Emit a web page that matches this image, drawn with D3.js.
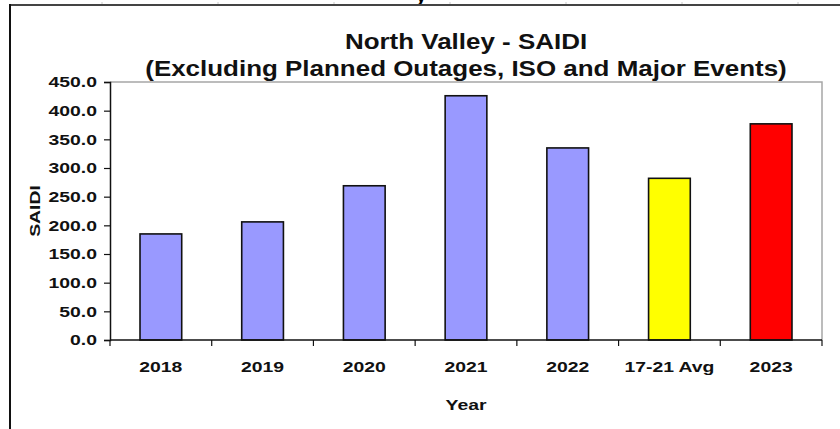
<!DOCTYPE html>
<html>
<head>
<meta charset="utf-8">
<script src="https://cdn.jsdelivr.net/npm/d3@7"></script>
<style>
  html, body { margin: 0; padding: 0; background: #fff; }
  svg { display: block; font-family: "Liberation Sans", Arial, sans-serif; }
</style>
</head>
<body>
<svg id="chart" width="840" height="429"></svg>
<script>
// North Valley SAIDI by year
const categories = ["2018", "2019", "2020", "2021", "2022", "17-21 Avg", "2023"];
const saidiValues = [185, 206, 269, 426, 335, 282, 377];
const barColors = ["#9999ff", "#9999ff", "#9999ff", "#9999ff", "#9999ff", "#ffff00", "#ff0000"];
const yTicks = [0, 50, 100, 150, 200, 250, 300, 350, 400, 450];
const titleLines = ["North Valley - SAIDI", "(Excluding Planned Outages, ISO and Major Events)"];

const svg = d3.select("#chart");
const W = 840, H = 429;
const plot = { left: 110, right: 822, top: 82, bottom: 340 };

// text is drawn slightly wide, like the exported chart's lettering
const TITLE_SX = 1.18, LABEL_SX = 1.25;
const titleSize = "22px", labelSize = "15.5px";

// chart area frame (cropped at right and bottom)
svg.append("defs").append("clipPath").attr("id", "topclip")
  .append("rect").attr("x", 0).attr("y", 0).attr("width", W).attr("height", 4);
svg.append("text").attr("x", 421).attr("y", 2).attr("text-anchor", "middle")
  .attr("clip-path", "url(#topclip)")
  .style("font-size", "20px").style("font-weight", "bold").text("y");
// faint sheet gridline stubs above the frame
[102, 218, 334, 450, 566, 682, 798].forEach(xp => {
  svg.append("line").attr("x1", xp).attr("x2", xp).attr("y1", 2).attr("y2", 5)
    .attr("stroke", "#c8c8c8").attr("stroke-width", 1);
});
svg.append("line").attr("x1", 9).attr("x2", W).attr("y1", 5).attr("y2", 5)
  .attr("stroke", "#444").attr("stroke-width", 2);
svg.append("line").attr("x1", 10).attr("x2", 10).attr("y1", 4).attr("y2", H)
  .attr("stroke", "#111").attr("stroke-width", 2);

const x = d3.scaleBand().domain(categories).range([plot.left, plot.right])
  .paddingInner(0.59).paddingOuter(0.295);
const y = d3.scaleLinear().domain([0, 450]).range([plot.bottom, plot.top]);

// plot area border (top and right)
svg.append("path")
  .attr("d", `M${plot.left},${plot.top}H${plot.right}V${plot.bottom}`)
  .attr("fill", "none").attr("stroke", "#a6a6a6").attr("stroke-width", 1.5);

// bars
svg.append("g").selectAll("rect").data(categories).join("rect")
  .attr("x", d => x(d))
  .attr("y", (d, i) => y(saidiValues[i]))
  .attr("width", x.bandwidth())
  .attr("height", (d, i) => y(0) - y(saidiValues[i]))
  .attr("fill", (d, i) => barColors[i])
  .attr("stroke", "#111").attr("stroke-width", 1.6);

// y axis
const yAxis = svg.append("g").attr("transform", `translate(${plot.left},0)`)
  .call(d3.axisLeft(y).tickValues(yTicks).tickFormat(d3.format(".1f")).tickSize(6).tickPadding(7));
yAxis.select(".domain").attr("stroke", "#111").attr("stroke-width", 1.5);
yAxis.selectAll(".tick line").attr("stroke", "#111").attr("stroke-width", 1.2);
yAxis.selectAll(".tick text")
  .attr("x", -13 / LABEL_SX)
  .attr("transform", `scale(${LABEL_SX},1)`)
  .style("font-size", labelSize).style("font-weight", "bold").attr("fill", "#111");

// x axis: ticks on category boundaries
const xAxisG = svg.append("g").attr("transform", `translate(0,${plot.bottom})`);
xAxisG.append("line").attr("x1", plot.left).attr("x2", plot.right)
  .attr("stroke", "#111").attr("stroke-width", 1.5);
const step = x.step();
const boundaries = d3.range(categories.length + 1).map(i => plot.left + i * step);
xAxisG.selectAll("line.bt").data(boundaries).join("line").attr("class", "bt")
  .attr("x1", d => d).attr("x2", d => d).attr("y1", 0).attr("y2", 6)
  .attr("stroke", "#111").attr("stroke-width", 1.2);
xAxisG.selectAll("text").data(categories).join("text")
  .attr("transform", d => `translate(${x(d) + x.bandwidth() / 2},32) scale(${LABEL_SX},1)`)
  .attr("text-anchor", "middle")
  .style("font-size", labelSize).style("font-weight", "bold").attr("fill", "#111")
  .text(d => d);

// axis titles
svg.append("text")
  .attr("transform", `translate(${(plot.left + plot.right) / 2},410) scale(${LABEL_SX},1)`)
  .attr("text-anchor", "middle").style("font-size", labelSize).style("font-weight", "bold")
  .attr("fill", "#111").text("Year");
svg.append("text")
  .attr("transform", `translate(40,${(plot.top + plot.bottom) / 2}) rotate(-90) scale(${LABEL_SX},1)`)
  .attr("text-anchor", "middle").style("font-size", labelSize).style("font-weight", "bold")
  .attr("fill", "#111").text("SAIDI");

// title
svg.append("g").selectAll("text").data(titleLines).join("text")
  .attr("transform", (d, i) => `translate(${(plot.left + plot.right) / 2},${49 + i * 27}) scale(${TITLE_SX},1)`)
  .attr("text-anchor", "middle").style("font-size", titleSize).style("font-weight", "bold")
  .attr("fill", "#111").text(d => d);
</script>
</body>
</html>
